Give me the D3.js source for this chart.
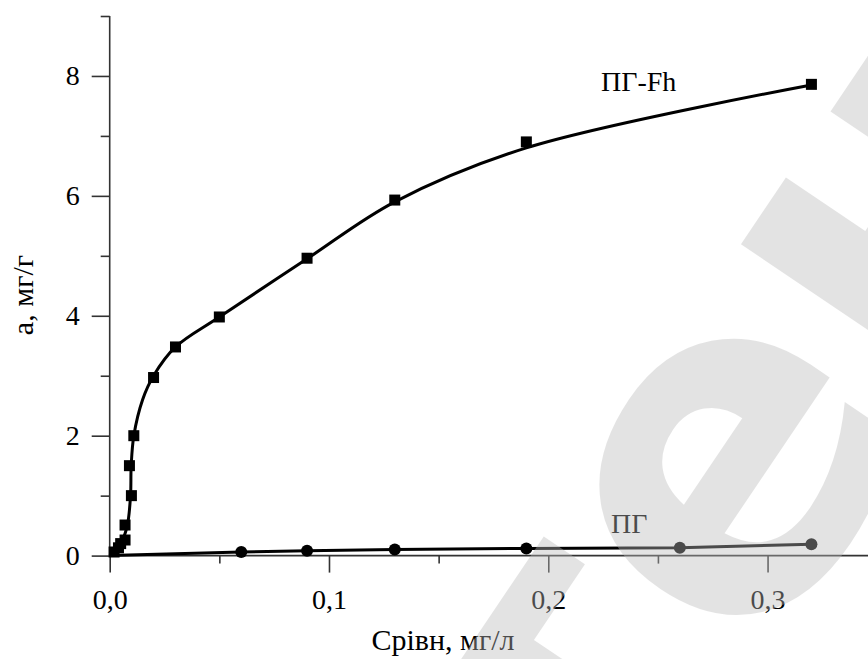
<!DOCTYPE html>
<html>
<head>
<meta charset="utf-8">
<script src="https://cdn.jsdelivr.net/npm/d3@7"></script>
<style>
  body { margin: 0; background: #fff; }
  svg { display: block; }
</style>
</head>
<body>
<div id="chart"></div>
<script>
// ПГ-Fh: measured points (squares)
var fhX = [0.002, 0.004, 0.005, 0.007, 0.007, 0.0099, 0.009, 0.011, 0.020, 0.030, 0.050, 0.090, 0.130, 0.190, 0.320];
var fhY = [0.06, 0.13, 0.20, 0.26, 0.51, 1.00, 1.50, 2.00, 2.97, 3.48, 3.98, 4.96, 5.93, 6.90, 7.86];
// ПГ-Fh: fitted curve
var fitX = [0, 0.005, 0.008, 0.0095, 0.0098, 0.011, 0.015, 0.020, 0.030, 0.050, 0.090, 0.130, 0.190, 0.320];
var fitY = [0, 0.20, 0.50, 1.00, 1.50, 2.00, 2.60, 3.00, 3.48, 3.98, 4.95, 5.90, 6.80, 7.85];
// ПГ: points (circles)
var pgX = [0.060, 0.090, 0.130, 0.190, 0.260, 0.320];
var pgY = [0.06, 0.08, 0.10, 0.12, 0.13, 0.19];

var xMajor = [0, 0.1, 0.2, 0.3];
var xMinor = [0.05, 0.15, 0.25];
var yMajor = [0, 2, 4, 6, 8];
var yMinor = [1, 3, 5, 7, 9];

var width = 868, height = 659;
var serif = "Liberation Serif";
var svg = d3.select("#chart").append("svg")
    .attr("width", width)
    .attr("height", height);

var x = d3.scaleLinear().domain([0, 0.3458]).range([109.7, 868]);
var y = d3.scaleLinear().domain([0, 9]).range([555.6, 16]);

function fmt(d) { return d3.format(".1f")(d).replace(".", ","); }

// axes
var axisCol = "#333";
var gx = svg.append("g").attr("transform", "translate(0," + y(0) + ")");
gx.call(d3.axisBottom(x).tickValues(xMajor).tickSize(17).tickPadding(17).tickFormat(fmt));
gx.append("g").call(d3.axisBottom(x).tickValues(xMinor).tickSize(8).tickFormat(""));

var gy = svg.append("g").attr("transform", "translate(" + x(0) + ",0)");
gy.call(d3.axisLeft(y).tickValues(yMajor).tickSize(18).tickPadding(12).tickFormat(d3.format("d")));
gy.append("g").call(d3.axisLeft(y).tickValues(yMinor).tickSize(9).tickFormat(""));

svg.selectAll(".domain").attr("d", null);
gx.attr("font-family", serif);
gy.attr("font-family", serif);
gx.append("line").attr("x1", x.range()[0]).attr("x2", 868).attr("y1", 0).attr("y2", 0)
    .attr("stroke", axisCol).attr("stroke-width", 1.6);
gy.append("line").attr("x1", 0).attr("x2", 0).attr("y1", y(0)).attr("y2", y(9))
    .attr("stroke", axisCol).attr("stroke-width", 1.6);
svg.selectAll(".tick line").attr("stroke", axisCol).attr("stroke-width", 1.6);
svg.selectAll(".tick text").attr("fill", "#000").attr("font-size", 28)
    .attr("font-family", serif);

// axis titles
svg.append("text")
    .attr("transform", "translate(33,295) rotate(-90)")
    .attr("text-anchor", "middle")
    .attr("font-family", serif)
    .attr("font-size", 30)
    .text("а, мг/г");
svg.append("text")
    .attr("x", 443).attr("y", 650)
    .attr("text-anchor", "middle")
    .attr("font-family", serif)
    .attr("font-size", 30)
    .text("Срівн, мг/л");

// ПГ-Fh curve
var fitLine = d3.line()
    .x(function(d) { return x(d[0]); })
    .y(function(d) { return y(d[1]); })
    .curve(d3.curveCatmullRom.alpha(0.5));
svg.append("path")
    .datum(d3.zip(fitX, fitY))
    .attr("d", fitLine)
    .attr("fill", "none")
    .attr("stroke", "#000")
    .attr("stroke-width", 3);

var sq = 11;
svg.selectAll(".sq")
    .data(d3.zip(fhX, fhY))
    .enter().append("rect")
    .attr("class", "sq")
    .attr("x", function(d) { return x(d[0]) - sq / 2; })
    .attr("y", function(d) { return y(d[1]) - sq / 2; })
    .attr("width", sq).attr("height", sq)
    .attr("fill", "#000");

// ПГ line
var pgLine = d3.line()
    .x(function(d) { return x(d[0]); })
    .y(function(d) { return y(d[1]); });
svg.append("path")
    .datum([[0, 0]].concat(d3.zip(pgX, pgY)))
    .attr("d", pgLine)
    .attr("fill", "none")
    .attr("stroke", "#000")
    .attr("stroke-width", 3);
svg.selectAll(".dot")
    .data(d3.zip(pgX, pgY))
    .enter().append("circle")
    .attr("class", "dot")
    .attr("cx", function(d) { return x(d[0]); })
    .attr("cy", function(d) { return y(d[1]); })
    .attr("r", 6)
    .attr("fill", "#000");

// series labels
svg.append("text").attr("x", 601).attr("y", 91)
    .attr("font-family", serif).attr("font-size", 28).text("ПГ-Fh");
svg.append("text").attr("x", 611).attr("y", 533)
    .attr("font-family", serif).attr("font-size", 28).text("ПГ");

// watermark
svg.append("text")
    .attr("transform", "translate(855,525) rotate(-56)")
    .attr("text-anchor", "middle")
    .attr("font-family", "DejaVu Sans")
    .attr("font-weight", "bold")
    .attr("font-size", 460)
    .attr("fill", "#bbb")
    .attr("opacity", 0.4)
    .text("тен");
</script>
</body>
</html>
